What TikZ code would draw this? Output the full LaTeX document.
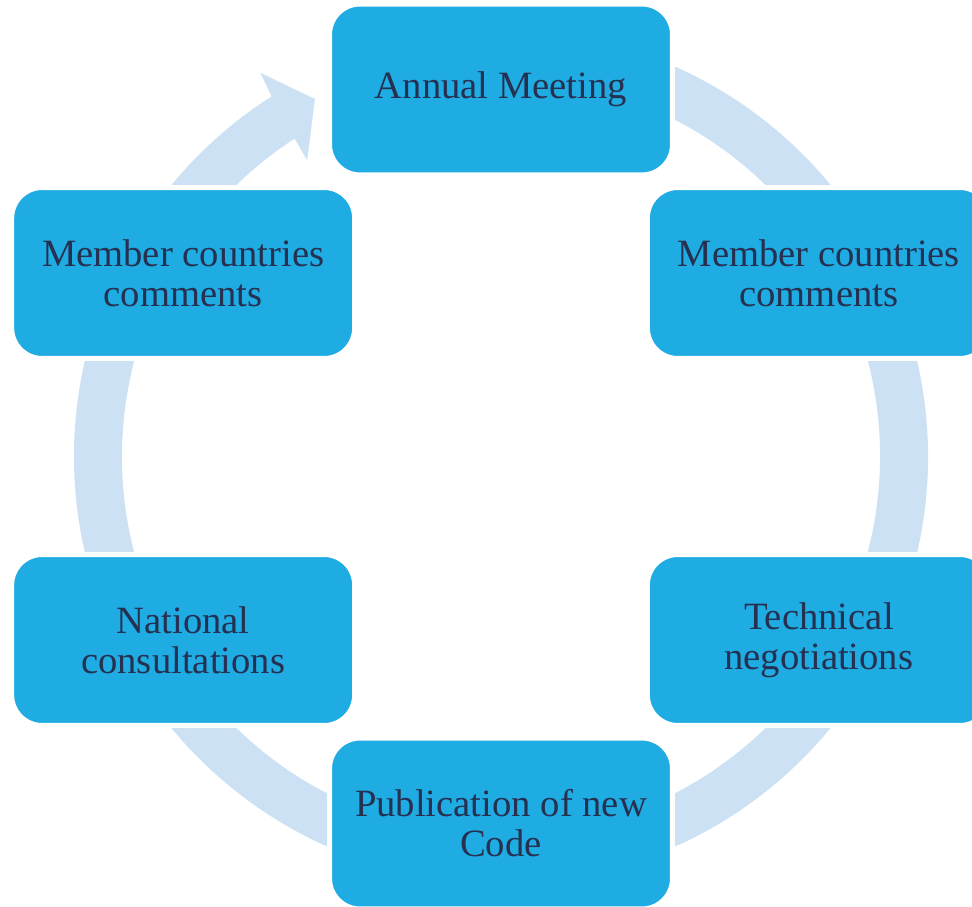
\documentclass[tikz,border=0pt]{standalone}
\usepackage{fontspec}
\setmainfont{Liberation Serif}
\usepackage{xcolor}
\usepackage{tikz}
\definecolor{boxblue}{RGB}{30,172,227}
\definecolor{ringblue}{RGB}{204,226,244}
\definecolor{textnavy}{RGB}{38,48,80}
\tikzstyle{stage}=[fill=boxblue, draw=white, line width=0.1cm, rounded corners=0.61cm, minimum width=6.86cm, minimum height=3.42cm, inner sep=0pt, align=center, text=textnavy, font=\fontsize{22}{22.7}\selectfont]
\tikzstyle{ring}=[fill=ringblue, draw=none]
\pgfdeclarelayer{nodelayer}
\pgfdeclarelayer{edgelayer}
\pgfsetlayers{main,edgelayer,nodelayer}

\begin{document}
\begin{tikzpicture}[x=0.02cm, y=0.02cm]
	\useasboundingbox (-501,-449.5) rectangle (471,456.5);
	\begin{pgfonlayer}{nodelayer}
		\node [style=stage] (0) at (90:367) {Annual Meeting};
		\node [style=stage] (1) at (30:367) {Member countries\\comments};
		\node [style=stage] (2) at (-30:367) {Technical\\negotiations};
		\node [style=stage] (3) at (-90:367) {Publication of new\\Code};
		\node [style=stage] (4) at (210:367) {National\\consultations};
		\node [style=stage] (5) at (150:367) {Member countries\\comments};
	\end{pgfonlayer}
	\begin{pgfonlayer}{edgelayer}
		% circular arrow, tail hidden under the top box
		\fill [style=ring] (100:427) arc (100:-237.5:427) -- (-237.9:453) -- (-242.5:403)
			-- (-236.8:354) -- (-237.0:379) arc (-237.0:100:379) -- cycle;
	\end{pgfonlayer}
\end{tikzpicture}
\end{document}
